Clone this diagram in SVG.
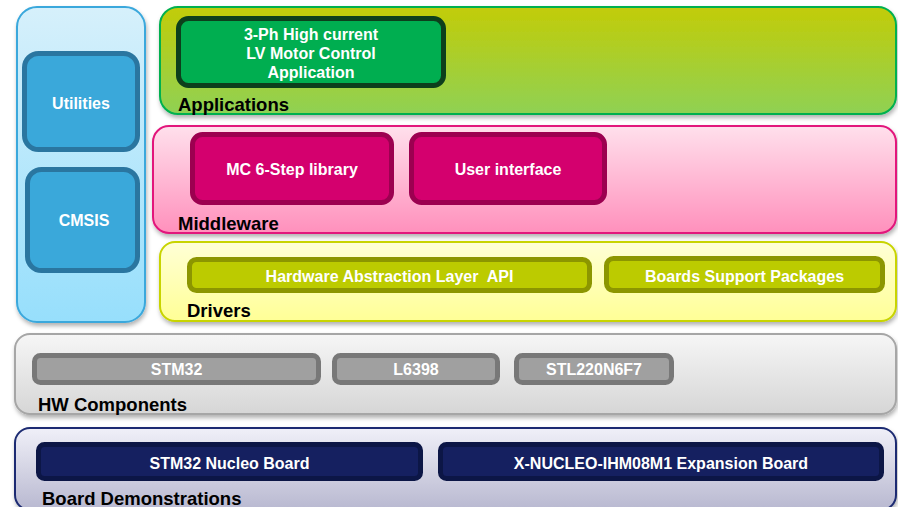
<svg xmlns="http://www.w3.org/2000/svg" width="898" height="507" viewBox="0 0 898 507">
<defs>
<linearGradient id="gBlue" x1="0" y1="0" x2="0" y2="1"><stop offset="0" stop-color="#d6f0fb"/><stop offset="1" stop-color="#97dffc"/></linearGradient>
<linearGradient id="gApp" x1="0" y1="0" x2="0" y2="1"><stop offset="0" stop-color="#c2cc08"/><stop offset="1" stop-color="#8fd154"/></linearGradient>
<linearGradient id="gMid" x1="0" y1="0" x2="0" y2="1"><stop offset="0" stop-color="#ffe0ec"/><stop offset="1" stop-color="#ff90bc"/></linearGradient>
<linearGradient id="gDrv" x1="0" y1="0" x2="0" y2="1"><stop offset="0" stop-color="#ffffd6"/><stop offset="1" stop-color="#ffff96"/></linearGradient>
<linearGradient id="gHw" x1="0" y1="0" x2="0" y2="1"><stop offset="0" stop-color="#f6f6f6"/><stop offset="1" stop-color="#d6d6d6"/></linearGradient>
<linearGradient id="gBd" x1="0" y1="0" x2="0" y2="1"><stop offset="0" stop-color="#f0f0f8"/><stop offset="1" stop-color="#b8b8d0"/></linearGradient>
<filter id="sh" x="-5%" y="-10%" width="110%" height="130%"><feDropShadow dx="1" dy="3" stdDeviation="2" flood-color="#000" flood-opacity="0.3"/></filter>
</defs>
<style>
.panel{stroke-width:2;filter:url(#sh)}
.box{stroke-width:5}
.t{font-family:"Liberation Sans",Arial,sans-serif;font-weight:bold;font-size:16px;fill:#fff;text-anchor:middle}
.lbl{font-family:"Liberation Sans",Arial,sans-serif;font-weight:bold;font-size:18.5px;fill:#000}
</style>

<g id="side">
<rect class="panel" x="17" y="7" width="128" height="315" rx="20" fill="url(#gBlue)" stroke="#3aa8dc"/>
</g>
<g id="utilities">
<rect class="box" x="24.5" y="53.5" width="113" height="96" rx="14" fill="#3aa8da" stroke="#2a76a0"/>
<text class="t" x="81" y="108.5">Utilities</text>
</g>
<g id="cmsis">
<rect class="box" x="27.5" y="169.5" width="110" height="101" rx="14" fill="#3aa8da" stroke="#2a76a0"/>
<text class="t" x="84" y="225.5">CMSIS</text>
</g>

<g id="applications">
<rect class="panel" x="160" y="7" width="736" height="107" rx="18" fill="url(#gApp)" stroke="#00b050"/>
<text class="lbl" x="178" y="110.5">Applications</text>
</g>
<g id="app">
<rect class="box" x="178.5" y="18.5" width="265" height="67" rx="10" fill="#00ae50" stroke="#0d3f1c"/>
<text class="t" x="311" y="39.5">3-Ph High current</text>
<text class="t" x="311" y="58.5">LV Motor Control</text>
<text class="t" x="311" y="77.5">Application</text>
</g>

<g id="middleware">
<rect class="panel" x="153" y="126" width="743" height="107" rx="16" fill="url(#gMid)" stroke="#e2177c"/>
<text class="lbl" x="178" y="230">Middleware</text>
</g>
<g id="mc6step">
<rect class="box" x="192.5" y="134.5" width="199" height="68" rx="10" fill="#d4006e" stroke="#9c0050"/>
<text class="t" x="292" y="174.5">MC 6-Step library</text>
</g>
<g id="userif">
<rect class="box" x="411.5" y="134.5" width="193" height="68" rx="10" fill="#d4006e" stroke="#9c0050"/>
<text class="t" x="508" y="174.5">User interface</text>
</g>

<g id="drivers">
<rect class="panel" x="160" y="242" width="736" height="79" rx="15" fill="url(#gDrv)" stroke="#c8d400"/>
<text class="lbl" x="187" y="317">Drivers</text>
</g>
<g id="hal">
<rect class="box" x="189.5" y="259.5" width="400" height="31" rx="7" fill="#bccb00" stroke="#8c9600"/>
<text class="t" x="389.5" y="281.5" xml:space="preserve">Hardware Abstraction Layer  API</text>
</g>
<g id="bsp">
<rect class="box" x="606.5" y="258.5" width="276" height="32" rx="7" fill="#bccb00" stroke="#8c9600"/>
<text class="t" x="744.5" y="281.5">Boards Support Packages</text>
</g>

<g id="hw">
<rect class="panel" x="15" y="334" width="881" height="80" rx="15" fill="url(#gHw)" stroke="#a6a6a6"/>
<text class="lbl" x="38" y="411">HW Components</text>
</g>
<g id="stm32">
<rect class="box" x="34.5" y="355.5" width="284" height="27" rx="6" fill="#a0a0a0" stroke="#787878"/>
<text class="t" x="176.5" y="374.5">STM32</text>
</g>
<g id="l6398">
<rect class="box" x="334.5" y="355.5" width="163" height="27" rx="6" fill="#a0a0a0" stroke="#787878"/>
<text class="t" x="416" y="374.5">L6398</text>
</g>
<g id="stl">
<rect class="box" x="516.5" y="355.5" width="155" height="27" rx="6" fill="#a0a0a0" stroke="#787878"/>
<text class="t" x="594" y="374.5">STL220N6F7</text>
</g>

<g id="boards">
<rect class="panel" x="15" y="428" width="881" height="82" rx="15" fill="url(#gBd)" stroke="#1c2c72"/>
<text class="lbl" x="42" y="504.5">Board Demonstrations</text>
</g>
<g id="nucleo">
<rect class="box" x="38.5" y="444.5" width="382" height="34" rx="6" fill="#152060" stroke="#0c1646"/>
<text class="t" x="229.5" y="468.5">STM32 Nucleo Board</text>
</g>
<g id="xnucleo">
<rect class="box" x="440.5" y="444.5" width="441" height="34" rx="6" fill="#152060" stroke="#0c1646"/>
<text class="t" x="661" y="468.5">X-NUCLEO-IHM08M1 Expansion Board</text>
</g>
</svg>
